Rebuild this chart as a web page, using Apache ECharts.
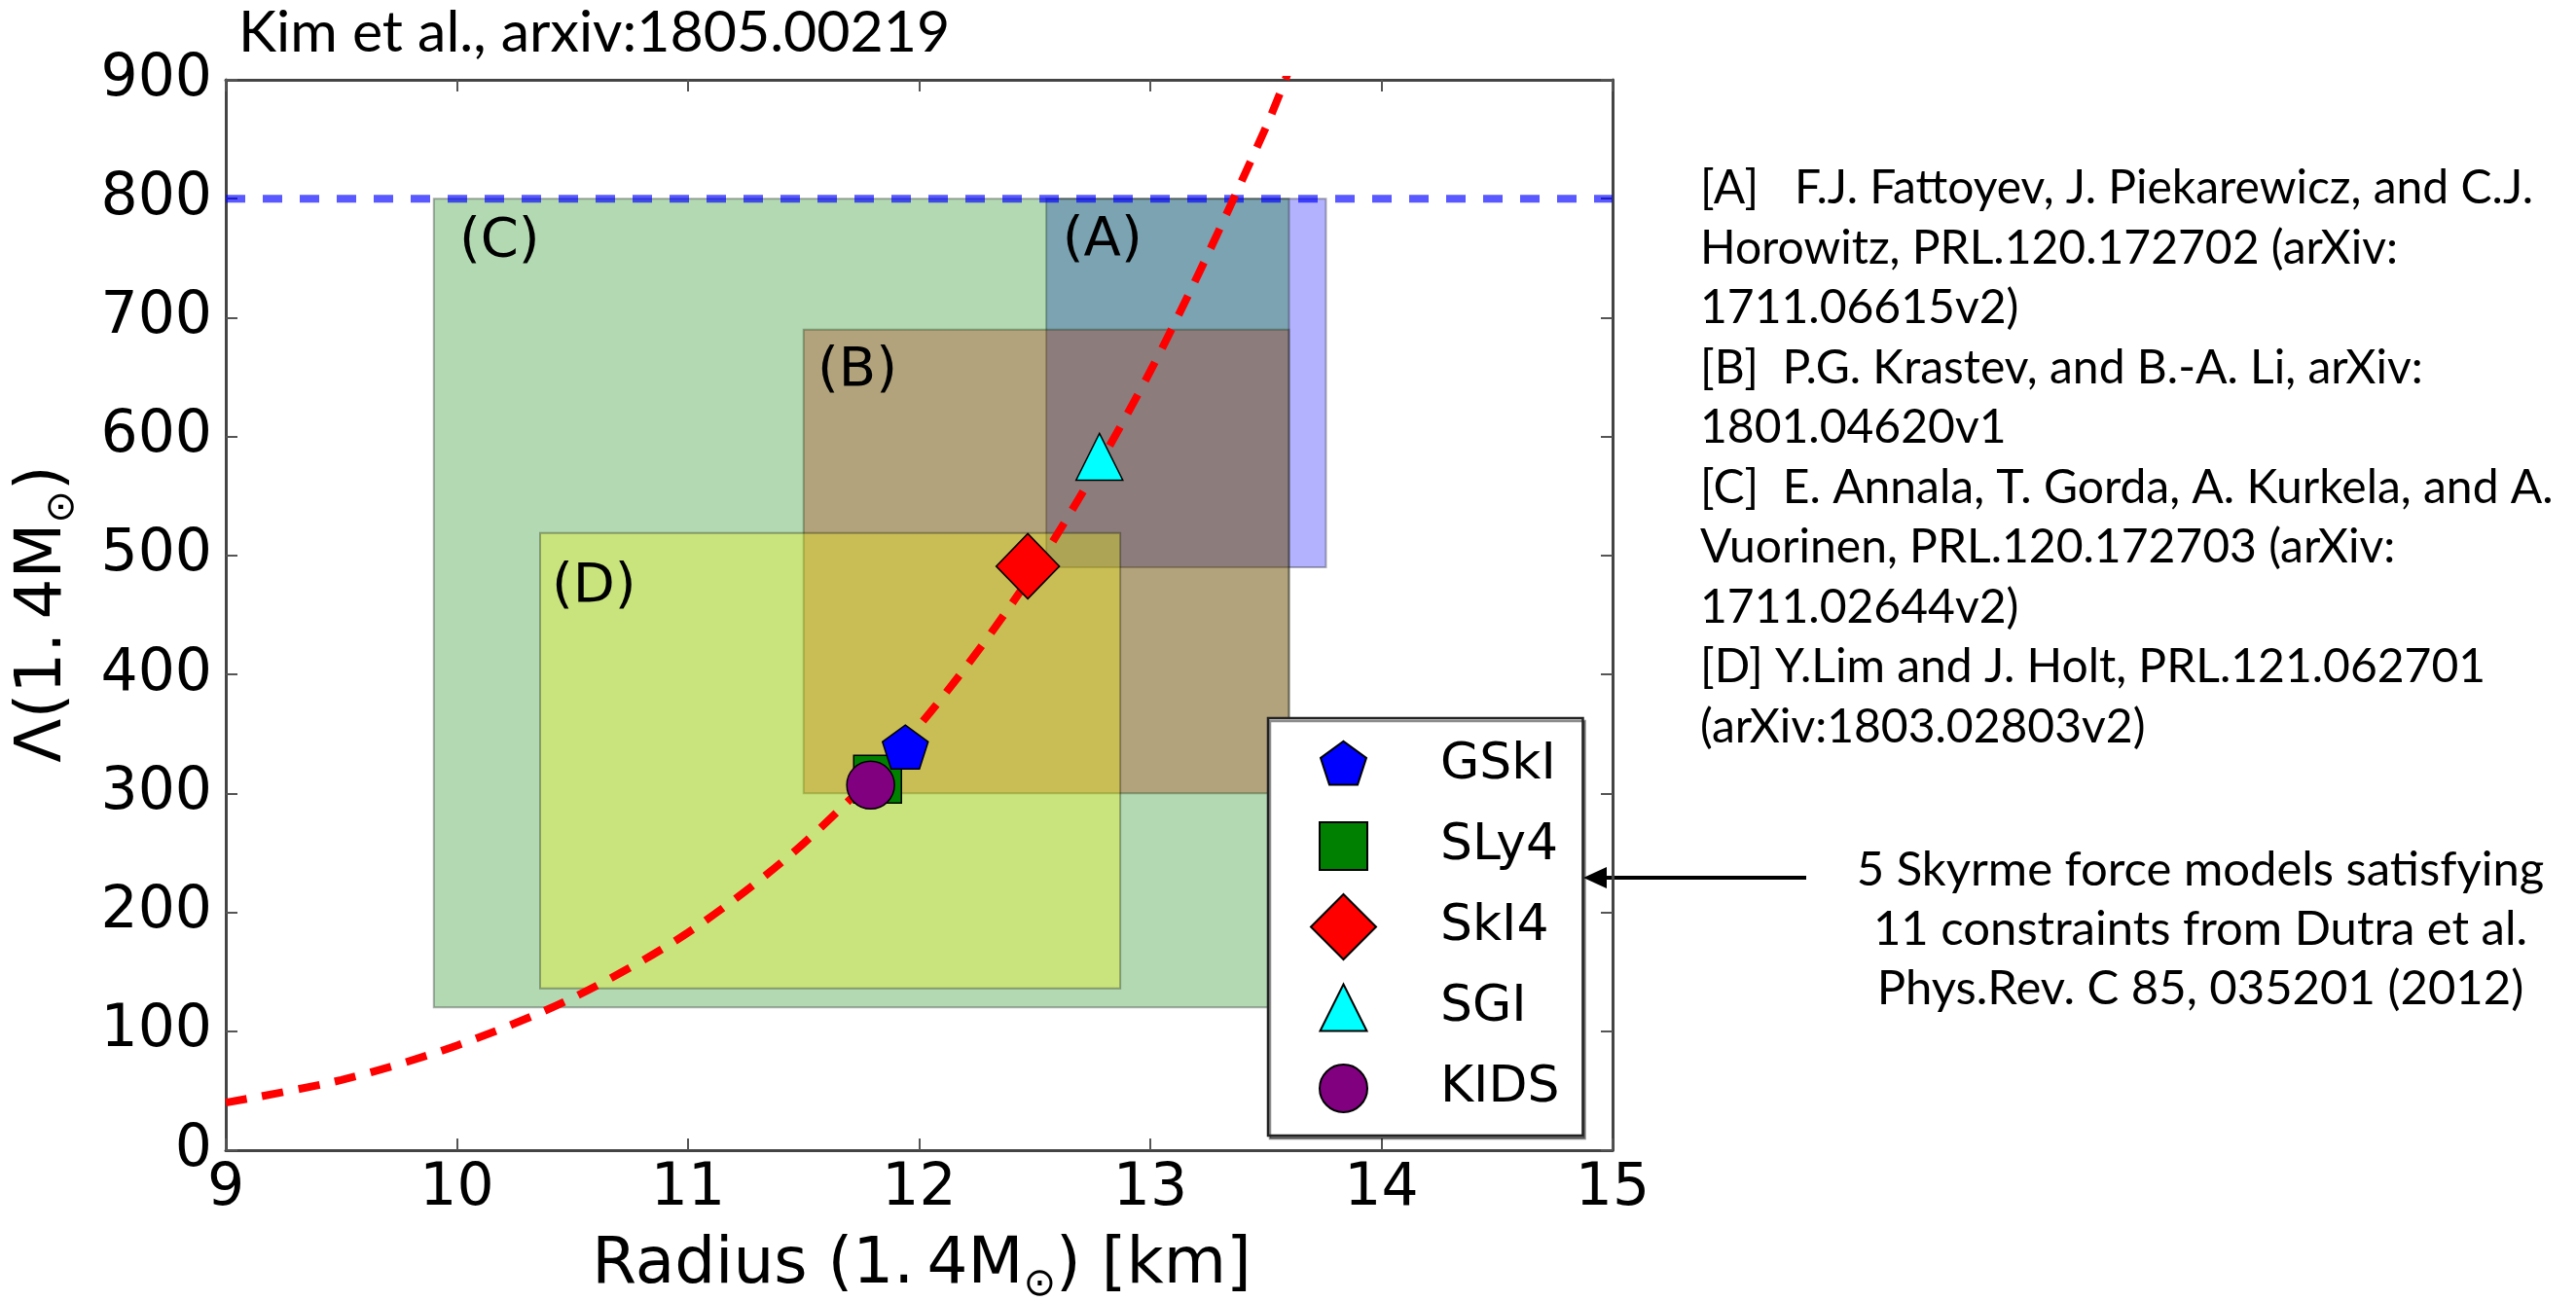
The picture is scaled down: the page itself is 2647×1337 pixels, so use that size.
<!DOCTYPE html>
<html>
<head>
<meta charset="utf-8">
<script src="https://cdn.jsdelivr.net/npm/echarts@6/dist/echarts.min.js"></script>
<style>
  html, body { margin: 0; padding: 0; background: #ffffff; }
  #chart { width: 2647px; height: 1337px; }
</style>
</head>
<body>
<div id="chart"></div>
<script>
// Skyrme force models: tidal deformability vs radius of a 1.4 solar-mass star
const modelNames  = ['GSkI', 'SLy4', 'SkI4', 'SGI', 'KIDS'];
const modelRadius = [11.94, 11.82, 12.47, 12.78, 11.79];
const modelLambda = [339, 312, 491, 583, 307];

// Constraint regions (A)-(D), drawn in this order
const boxNames      = ['(A)', '(B)', '(C)', '(D)'];
const boxRadiusMin  = [12.55, 11.50, 9.90, 10.36];
const boxRadiusMax  = [13.76, 13.60, 13.60, 12.87];
const boxLambdaMin  = [490, 300, 120, 136];
const boxLambdaMax  = [800, 690, 800, 519];
const boxLabelRadius = [12.62, 11.56, 10.01, 10.41];
const boxLabelLambda = [765, 655, 764, 473];

// Fitted Lambda(R) relation through the models
const fitRadius = [9.0, 9.5, 10.0, 10.5, 11.0, 11.5, 12.0, 12.5, 13.0, 13.5, 13.7];
const fitLambda = [40, 59, 88, 128, 183, 258, 357, 488, 655, 860, 960];

// Upper limit on Lambda(1.4 Msun)
const lambdaLimit = 800;

// Axis ranges and steps
const radiusRange = [9, 15];
const radiusStep = 1;
const lambdaRange = [0, 900];
const lambdaStep = 100;

const titleText = 'Kim et al., arxiv:1805.00219';
const referenceLines = [
  '[A]   F.J. Fattoyev, J. Piekarewicz, and C.J.',
  'Horowitz, PRL.120.172702 (arXiv:',
  '1711.06615v2)',
  '[B]  P.G. Krastev, and B.-A. Li, arXiv:',
  '1801.04620v1',
  '[C]  E. Annala, T. Gorda, A. Kurkela, and A.',
  'Vuorinen, PRL.120.172703 (arXiv:',
  '1711.02644v2)',
  '[D] Y.Lim and J. Holt, PRL.121.062701',
  '(arXiv:1803.02803v2)'
];
const noteLines = [
  '5 Skyrme force models satisfying',
  '11 constraints from Dutra et al.',
  'Phys.Rev. C 85, 035201 (2012)'
];

const MATH_FONT = 'DejaVu Sans';
const TEXT_FONT = 'Lato';

const boxFills = ['rgba(0,0,255,0.3)', 'rgba(255,0,0,0.3)', 'rgba(0,128,0,0.3)', 'rgba(255,255,0,0.3)'];

const modelStyle = {
  GSkI: { symbol: 'path://M0,-1L0.951,-0.309L0.588,0.809L-0.588,0.809L-0.951,-0.309Z', size: [47, 45], color: '#0000ff', z: 6,
          icon: 'path://M0,0M67,67M33.5,8.8L57,25.9L48,53.5L19,53.5L10,25.9Z' },
  SLy4: { symbol: 'rect', size: [49, 49], color: '#008000', z: 4,
          icon: 'path://M0,0M67,67M9,9L58,9L58,58L9,58Z' },
  SkI4: { symbol: 'diamond', size: [65, 67], color: '#ff0000', z: 6,
          icon: 'path://M33.5,0L67,33.5L33.5,67L0,33.5Z' },
  SGI:  { symbol: 'triangle', size: [48, 48], color: '#00ffff', z: 6,
          icon: 'path://M0,0M67,67M33.5,9.5L57.5,57.5L9.5,57.5Z' },
  KIDS: { symbol: 'circle', size: [49, 49], color: '#800080', z: 5,
          icon: 'path://M0,0M67,67M9,33.5A24.5,24.5,0,1,1,58,33.5A24.5,24.5,0,1,1,9,33.5Z' }
};

const boxData = boxNames.map((n, i) => [boxRadiusMin[i], boxRadiusMax[i], boxLambdaMin[i], boxLambdaMax[i]]);
const boxLabelData = boxNames.map((n, i) => [boxLabelRadius[i], boxLabelLambda[i]]);
const fitData = fitRadius.map((r, i) => [r, fitLambda[i]]);

const chart = echarts.init(document.getElementById('chart'), null, { renderer: 'canvas' });

const frameLine = { show: true, onZero: false, lineStyle: { color: '#444444', width: 3 } };
const innerTick = { show: true, inside: true, length: 12, lineStyle: { color: '#555555', width: 2 } };

const scatterSeries = ['SLy4', 'KIDS', 'GSkI', 'SkI4', 'SGI'].map(name => {
  const i = modelNames.indexOf(name);
  const s = modelStyle[name];
  return {
    name: name,
    type: 'scatter',
    z: s.z,
    symbol: s.symbol,
    symbolSize: s.size,
    itemStyle: { color: s.color, borderColor: '#000000', borderWidth: 1.5, opacity: 1 },
    emphasis: { disabled: true },
    data: [[modelRadius[i], modelLambda[i]]]
  };
});

const option = {
  animation: false,
  backgroundColor: '#ffffff',
  grid: { left: 232, top: 82, width: 1425, height: 1100, containLabel: false, outerBoundsMode: 'none' },
  xAxis: [
    {
      type: 'value', min: radiusRange[0], max: radiusRange[1], interval: radiusStep,
      position: 'bottom',
      axisLine: frameLine, axisTick: innerTick, splitLine: { show: false },
      axisLabel: { fontSize: 60, fontFamily: MATH_FONT, color: '#000000', margin: 10 }
    },
    {
      type: 'value', min: radiusRange[0], max: radiusRange[1], interval: radiusStep,
      position: 'top',
      axisLine: frameLine, axisTick: innerTick, splitLine: { show: false },
      axisLabel: { show: false }
    }
  ],
  yAxis: [
    {
      type: 'value', min: lambdaRange[0], max: lambdaRange[1], interval: lambdaStep,
      position: 'left',
      axisLine: frameLine, axisTick: innerTick, splitLine: { show: false },
      axisLabel: { fontSize: 60, fontFamily: MATH_FONT, color: '#000000', margin: 14 }
    },
    {
      type: 'value', min: lambdaRange[0], max: lambdaRange[1], interval: lambdaStep,
      position: 'right',
      axisLine: frameLine, axisTick: innerTick, splitLine: { show: false },
      axisLabel: { show: false }
    }
  ],
  legend: {
    orient: 'vertical',
    left: 1303,
    top: 738,
    padding: [14, 24, 14, 43],
    itemWidth: 67,
    itemHeight: 67,
    itemGap: 14,
    selectedMode: false,
    backgroundColor: '#ffffff',
    borderColor: '#222222',
    borderWidth: 2.5,
    borderRadius: 0,
    shadowColor: 'rgba(0,0,0,0.45)',
    shadowBlur: 0,
    shadowOffsetX: 2,
    shadowOffsetY: 3,
    data: modelNames.map(n => ({ name: n, icon: modelStyle[n].icon })),
    formatter: name => '{g| }{t|' + name + '}',
    textStyle: {
      rich: {
        g: { width: 61 },
        t: { fontSize: 52, fontFamily: MATH_FONT, color: '#000000' }
      }
    }
  },
  series: [
    {
      type: 'custom',
      name: 'regions',
      z: 1,
      silent: true,
      clip: true,
      encode: { x: [0, 1], y: [2, 3] },
      data: boxData,
      renderItem: (params, api) => {
        const topLeft = api.coord([api.value(0), api.value(3)]);
        const bottomRight = api.coord([api.value(1), api.value(2)]);
        return {
          type: 'rect',
          shape: { x: topLeft[0], y: topLeft[1], width: bottomRight[0] - topLeft[0], height: bottomRight[1] - topLeft[1] },
          style: { fill: boxFills[params.dataIndex], stroke: 'rgba(0,0,0,0.3)', lineWidth: 2 }
        };
      }
    },
    {
      type: 'custom',
      name: 'region labels',
      z: 2,
      silent: true,
      encode: { x: 0, y: 1 },
      data: boxLabelData,
      renderItem: (params, api) => {
        const p = api.coord([api.value(0), api.value(1)]);
        return {
          type: 'text',
          x: p[0], y: p[1],
          style: { text: boxNames[params.dataIndex], fontSize: 56, fontFamily: MATH_FONT, fill: '#000000', align: 'left', verticalAlign: 'middle' }
        };
      }
    },
    {
      type: 'line',
      name: 'limit',
      z: 3,
      silent: true,
      symbol: 'none',
      lineStyle: { color: 'rgba(0,0,255,0.65)', width: 8, type: [20, 18], cap: 'butt' },
      data: [[radiusRange[0], lambdaLimit], [radiusRange[1], lambdaLimit]]
    },
    {
      type: 'line',
      name: 'fit',
      z: 3,
      silent: true,
      symbol: 'none',
      smooth: 0.3,
      clip: true,
      lineStyle: { color: '#ff0000', width: 8, type: [22, 16], cap: 'butt' },
      data: fitData
    },
    ...scatterSeries
  ],
  graphic: [
    {
      type: 'text', x: 245, y: 34, silent: true,
      style: { text: titleText, fontSize: 59, fontFamily: TEXT_FONT, fill: '#000000', align: 'left', verticalAlign: 'middle' }
    },
    {
      type: 'text', x: 1747, y: 163, silent: true,
      style: { text: referenceLines.join('\n'), fontSize: 48, lineHeight: 61.5, fontFamily: TEXT_FONT, fill: '#000000', align: 'left', verticalAlign: 'top' }
    },
    {
      type: 'text', x: 2261, y: 864, silent: true,
      style: { text: noteLines.join('\n'), fontSize: 49, lineHeight: 60.8, fontFamily: TEXT_FONT, fill: '#000000', align: 'center', verticalAlign: 'top' }
    },
    {
      type: 'line', silent: true,
      shape: { x1: 1856, y1: 902, x2: 1646, y2: 902 },
      style: { stroke: '#000000', lineWidth: 4 }
    },
    {
      type: 'polygon', silent: true,
      shape: { points: [[1627, 902], [1651, 891], [1651, 913]] },
      style: { fill: '#000000' }
    },
    {
      type: 'text', x: 947, y: 1301, silent: true,
      style: {
        text: '{a|Radius (1.\u20094M}{s|\u2299}{a|) [km]}',
        align: 'center', verticalAlign: 'middle',
        rich: {
          a: { fontSize: 66, lineHeight: 80, fontFamily: MATH_FONT, fill: '#000000' },
          s: { fontSize: 40, lineHeight: 40, fontFamily: MATH_FONT, fill: '#000000', verticalAlign: 'bottom' }
        }
      }
    },
    {
      type: 'text', x: 45, y: 631, rotation: Math.PI / 2, silent: true,
      style: {
        text: '{a|\u039b(1.\u20094M}{s|\u2299}{a|)}',
        align: 'center', verticalAlign: 'middle',
        rich: {
          a: { fontSize: 66, lineHeight: 80, fontFamily: MATH_FONT, fill: '#000000' },
          s: { fontSize: 40, lineHeight: 40, fontFamily: MATH_FONT, fill: '#000000', verticalAlign: 'bottom' }
        }
      }
    }
  ]
};

chart.setOption(option);
</script>
</body>
</html>
